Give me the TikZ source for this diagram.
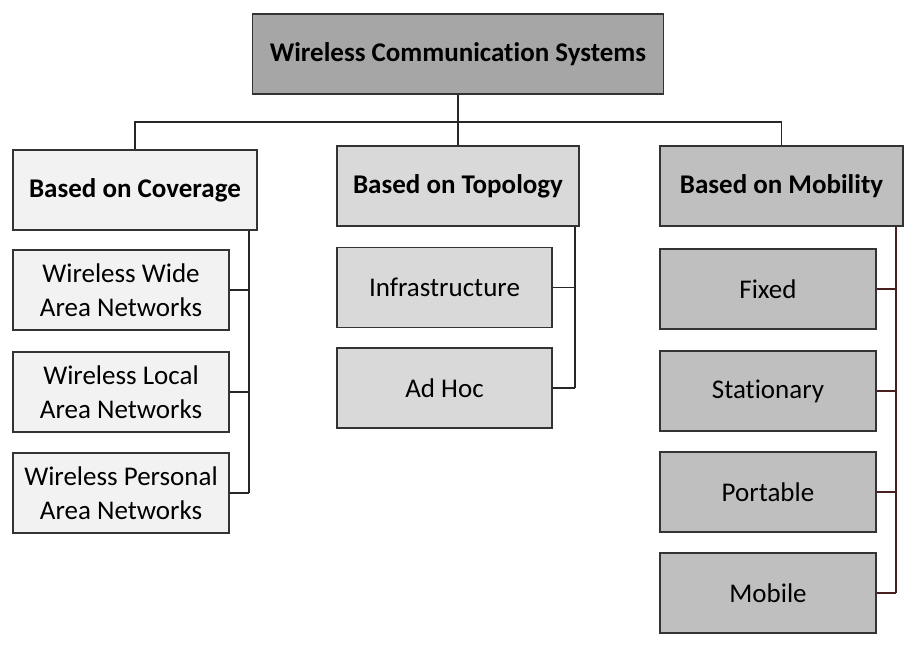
\documentclass[tikz,border=0pt]{standalone}
\usepackage{fontspec}
\setmainfont{Carlito}[Ligatures=NoCommon]
\usetikzlibrary{positioning}

\definecolor{topgray}{HTML}{A6A6A6}
\definecolor{covgray}{HTML}{F2F2F2}
\definecolor{topogray}{HTML}{D9D9D9}
\definecolor{mobgray}{HTML}{BFBFBF}
\definecolor{mobline}{HTML}{4A1F1F}

\tikzset{
    box/.style={draw=black!80, line width=1.2pt, inner sep=0pt, align=center,
        font=\fontsize{27}{34}\selectfont},
    headbox/.style={box, minimum height=80pt, font=\fontsize{27}{34}\selectfont\bfseries},
    itembox/.style={box, minimum width=216pt, minimum height=80pt},
    link/.style={line width=1.2pt, black!85}
}

\begin{document}
\begin{tikzpicture}[x=1pt,y=-1pt]
        \useasboundingbox (0,0) rectangle (914,649);

        %%%%%%%%%% Titolo %%%%%%%%%%
        \node[headbox, fill=topgray, minimum width=411pt] (wcs) at (458,54) {Wireless Communication Systems};

        %%%%%%%%%% Categorie %%%%%%%%%%
        \node[headbox, fill=covgray, minimum width=244pt] (cov) at (135,190) {Based on Coverage};
        \node[headbox, fill=topogray, minimum width=242pt] (topo) at (458,186) {Based on Topology};
        \node[headbox, fill=mobgray, minimum width=243pt] (mob) at (781.5,186) {Based on Mobility};

        %%%%%%%%%% Foglie %%%%%%%%%%
        \node[itembox, fill=covgray] (wwan) at (121,290) {Wireless Wide\\Area Networks};
        \node[itembox, fill=covgray] (wlan) at (121,392) {Wireless Local\\Area Networks};
        \node[itembox, fill=covgray] (wpan) at (121,493) {Wireless Personal\\Area Networks};

        \node[itembox, fill=topogray, minimum width=215pt] (infra) at (444.5,287.5) {Infrastructure};
        \node[itembox, fill=topogray, minimum width=215pt] (adhoc) at (444.5,388) {Ad Hoc};

        \node[itembox, fill=mobgray] (fixed) at (768,289) {Fixed};
        \node[itembox, fill=mobgray] (stat) at (768,391) {Stationary};
        \node[itembox, fill=mobgray] (port) at (768,492) {Portable};
        \node[itembox, fill=mobgray] (mobile) at (768,593) {Mobile};

        %%%%%%%%%% Collegamenti %%%%%%%%%%
        \coordinate (bus) at (0,122);
        \coordinate (covspine) at (249,0);
        \coordinate (topospine) at (575,0);
        \coordinate (mobspine) at (896,0);

        \draw[link] (wcs.south) -- (topo.north);
        \draw[link] (cov.north) -- (cov.north |- bus) -- (mob.north |- bus) -- (mob.north);

        \draw[link] (covspine |- cov.south) -- (covspine |- wpan.east);
        \foreach \n in {wwan,wlan,wpan}
            \draw[link] (\n.east) -- (\n.east -| covspine);

        \draw[link] (topospine |- topo.south) -- (topospine |- adhoc.east);
        \foreach \n in {infra,adhoc}
            \draw[link] (\n.east) -- (\n.east -| topospine);

        \draw[link, mobline] (mobspine |- mob.south) -- (mobspine |- mobile.east);
        \foreach \n in {fixed,stat,port,mobile}
            \draw[link, mobline] (\n.east) -- (\n.east -| mobspine);
    \end{tikzpicture}
\end{document}
